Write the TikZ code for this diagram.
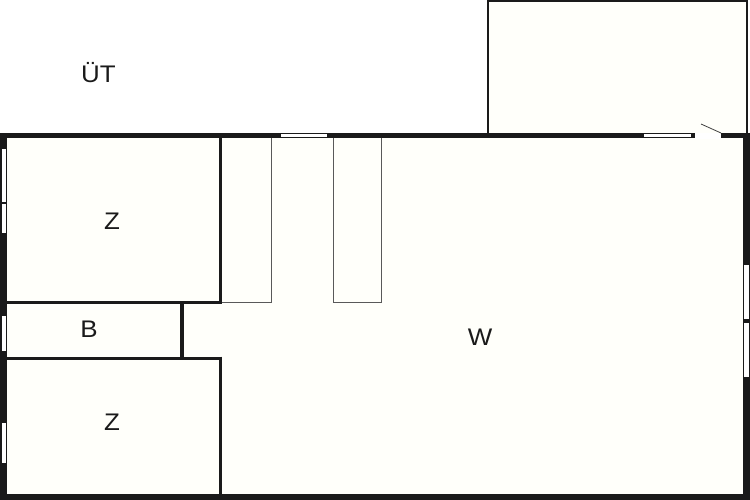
\documentclass[tikz,border=0pt]{standalone}
\usepackage{fontspec}
\setmainfont{Liberation Sans}
\definecolor{wallc}{HTML}{1A1A1A}
\definecolor{floorc}{HTML}{FFFFFA}
\tikzset{
  px/.style={x=1pt,y=-1pt},
  wall/.style={fill=wallc,draw=none},
  innerwall/.style={draw=wallc,line width=3.4pt,line cap=butt},
  thinline/.style={draw=black!65,line width=1pt},
  windowbox/.style={fill=white,draw=none},
  label/.style={font=\fontsize{24}{24}\selectfont,text=wallc,inner sep=0pt,xscale=1.08}
}
\begin{document}
\begin{tikzpicture}[px]
\useasboundingbox (0,0) rectangle (750,500);
\fill[white] (0,0) rectangle (750,500);
% balcony
\draw[fill=floorc,draw=wallc,line width=2pt] (488,134) -- (488,1) -- (747,1) -- (747,134);
% outer walls
\fill[floorc] (0,133) rectangle (750,500);
\fill[wall] (0,133) rectangle (750,138.3);
\fill[wall] (0,133) rectangle (7,500);
\fill[wall] (743.3,133) rectangle (750,500);
\fill[wall] (0,493.5) rectangle (750,500);
% inner walls
\draw[innerwall] (220.3,138) -- (220.3,304);
\draw[innerwall] (7,302.3) -- (222,302.3);
\draw[innerwall] (181.8,302) -- (181.8,358);
\draw[innerwall] (7,358.3) -- (222,358.3);
\draw[innerwall] (220.3,356.6) -- (220.3,494);
% fixtures
\draw[thinline] (222,302) -- (271.5,302) -- (271.5,138);
\draw[thinline] (333.5,138) -- (333.5,302) -- (381,302) -- (381,138);
% top windows
\fill[windowbox] (280.7,134.3) rectangle (326.5,137.5);
\fill[windowbox] (644,134.3) rectangle (691,137.5);
% door opening
\fill[white] (695,133) rectangle (721,139);
\draw[draw=black!75,line width=0.8pt] (701,124) -- (721,133);
% left windows
\fill[windowbox] (1.6,149) rectangle (6,201.8);
\fill[windowbox] (1.6,203.8) rectangle (6,233);
\fill[windowbox] (1.6,316) rectangle (6,350.7);
\fill[windowbox] (1.6,422.7) rectangle (6,462.7);
% right windows
\fill[windowbox] (744,265) rectangle (748.8,319.3);
\fill[windowbox] (744,322.5) rectangle (748.8,376.7);
% labels
\node[label] (ut) at (98.5,72.5) {ÜT};
\node[label] (z1) at (112,221.5) {Z};
\node[label] (b) at (89,329) {B};
\node[label] (z2) at (112,422) {Z};
\node[label] (w) at (480,337.5) {W};
\end{tikzpicture}
\end{document}
